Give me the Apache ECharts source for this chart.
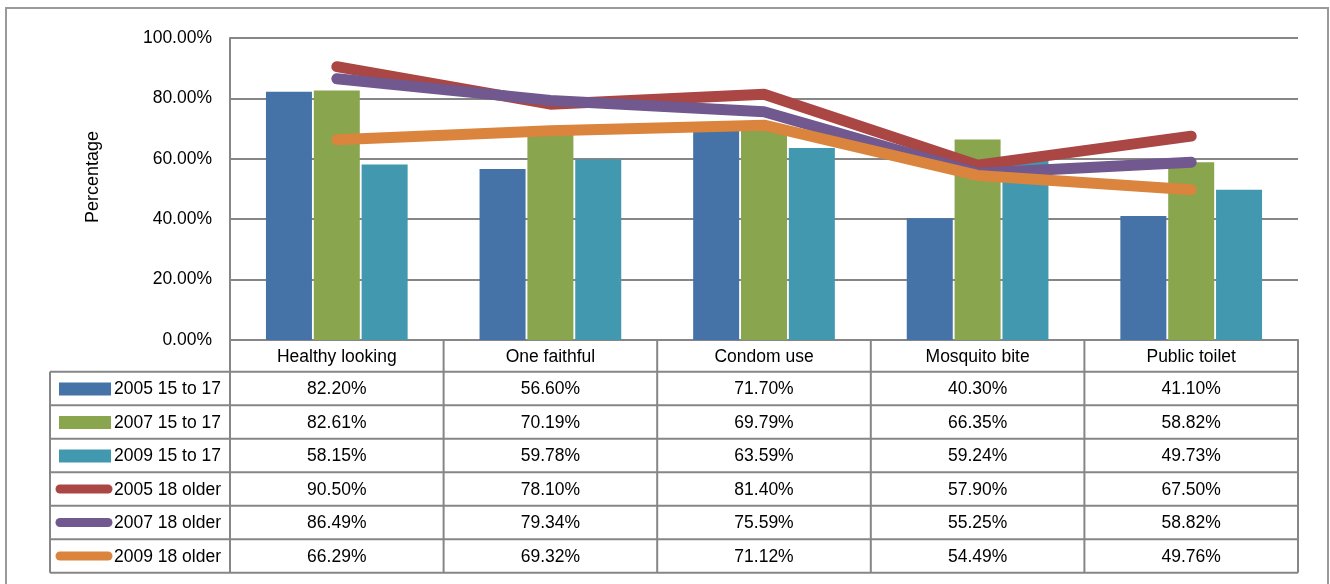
<!DOCTYPE html>
<html>
<head>
<meta charset="utf-8">
<script src="https://cdn.jsdelivr.net/npm/echarts@6/dist/echarts.min.js"></script>
<style>
  html, body { margin: 0; padding: 0; background: #fff; }
  #main { width: 1330px; height: 584px; }
</style>
</head>
<body>
<div id="main"></div>
<script>
// categories and series (percent)
var categories = ['Healthy looking', 'One faithful', 'Condom use', 'Mosquito bite', 'Public toilet'];
var young2005 = [82.20, 56.60, 71.70, 40.30, 41.10];
var young2007 = [82.61, 70.19, 69.79, 66.35, 58.82];
var young2009 = [58.15, 59.78, 63.59, 59.24, 49.73];
var older2005 = [90.50, 78.10, 81.40, 57.90, 67.50];
var older2007 = [86.49, 79.34, 75.59, 55.25, 58.82];
var older2009 = [66.29, 69.32, 71.12, 54.49, 49.76];
var yTicks = [0, 20, 40, 60, 80, 100];

var rows = [
  { name: '2005 15 to 17', data: young2005, color: '#4572A7', kind: 'bar' },
  { name: '2007 15 to 17', data: young2007, color: '#89A54E', kind: 'bar' },
  { name: '2009 15 to 17', data: young2009, color: '#4198AF', kind: 'bar' },
  { name: '2005 18 older', data: older2005, color: '#AA4643', kind: 'line' },
  { name: '2007 18 older', data: older2007, color: '#71588F', kind: 'line' },
  { name: '2009 18 older', data: older2009, color: '#DB843D', kind: 'line' }
];

// layout
var W = 1330, H = 584;
var plotL = 230, plotR = 1298, plotT = 38, plotB = 340;
var colW = (plotR - plotL) / categories.length;
var headBottom = 371.7, rowH = 33.5, tableL = 50;
var fontF = '"Liberation Sans", Arial, sans-serif';
var fs = 17.5;
var lineC = '#868686';

var chart = echarts.init(document.getElementById('main'));

var series = rows.map(function (r) {
  if (r.kind === 'bar') {
    return {
      name: r.name, type: 'bar', data: r.data,
      barWidth: 46, barGap: '4%',
      itemStyle: { color: r.color },
      silent: true
    };
  }
  return {
    name: r.name, type: 'line', data: r.data,
    symbol: 'none', z: 3,
    lineStyle: { color: r.color, width: 11, cap: 'round', join: 'round' },
    silent: true
  };
});

// data table drawn as graphic
var g = [];
g.push({ type: 'rect', shape: { x: 6, y: 8, width: 1322, height: 590 },
  style: { fill: 'none', stroke: '#9a9a9a', lineWidth: 2 }, silent: true });
var tableBottom = headBottom + rowH * rows.length;
for (var i = 0; i <= rows.length; i++) {
  var y = headBottom + i * rowH;
  g.push({ type: 'line', shape: { x1: tableL, y1: y, x2: plotR, y2: y },
    style: { stroke: lineC, lineWidth: 2 }, silent: true });
}
g.push({ type: 'line', shape: { x1: tableL, y1: headBottom, x2: tableL, y2: tableBottom },
  style: { stroke: lineC, lineWidth: 2 }, silent: true });
for (var k = 0; k <= categories.length; k++) {
  var x = plotL + k * colW;
  g.push({ type: 'line', shape: { x1: x, y1: plotB, x2: x, y2: tableBottom },
    style: { stroke: lineC, lineWidth: 2 }, silent: true });
}
rows.forEach(function (r, ri) {
  var cy = headBottom + (ri + 0.5) * rowH + 1;
  if (r.kind === 'bar') {
    g.push({ type: 'rect', shape: { x: 59, y: cy - 7, width: 52, height: 13 },
      style: { fill: r.color }, silent: true });
  } else {
    g.push({ type: 'line', shape: { x1: 60, y1: cy - 1, x2: 108, y2: cy - 1 },
      style: { stroke: r.color, lineWidth: 9, lineCap: 'round' }, silent: true });
  }
  g.push({ type: 'text', x: 114, y: cy,
    style: { text: r.name, fill: '#000', font: fs + 'px ' + fontF, textAlign: 'left', textVerticalAlign: 'middle' },
    silent: true });
  r.data.forEach(function (v, ci) {
    g.push({ type: 'text', x: plotL + (ci + 0.5) * colW, y: cy,
      style: { text: v.toFixed(2) + '%', fill: '#000', font: fs + 'px ' + fontF, textAlign: 'center', textVerticalAlign: 'middle' },
      silent: true });
  });
});

chart.setOption({
  animation: false,
  textStyle: { fontFamily: fontF, color: '#000' },
  grid: { left: plotL, right: W - plotR, top: plotT, bottom: H - plotB, containLabel: false },
  xAxis: {
    type: 'category', data: categories,
    axisLine: { lineStyle: { color: lineC, width: 2 } },
    axisTick: { show: false },
    axisLabel: { interval: 0, fontSize: fs, color: '#000', margin: 8 }
  },
  yAxis: {
    type: 'value', min: yTicks[0], max: yTicks[yTicks.length - 1], interval: 20,
    name: 'Percentage', nameLocation: 'middle', nameRotate: 90, nameGap: 128,
    nameTextStyle: { fontSize: 18, color: '#000', padding: [0, 0, 0, 24] },
    axisLine: { show: true, lineStyle: { color: lineC, width: 2 } },
    axisTick: { show: false },
    axisLabel: { fontSize: fs, color: '#000', margin: 18,
      formatter: function (v) { return v.toFixed(2) + '%'; } },
    splitLine: { lineStyle: { color: lineC, width: 2 } }
  },
  series: series,
  graphic: g
});
</script>
</body>
</html>
